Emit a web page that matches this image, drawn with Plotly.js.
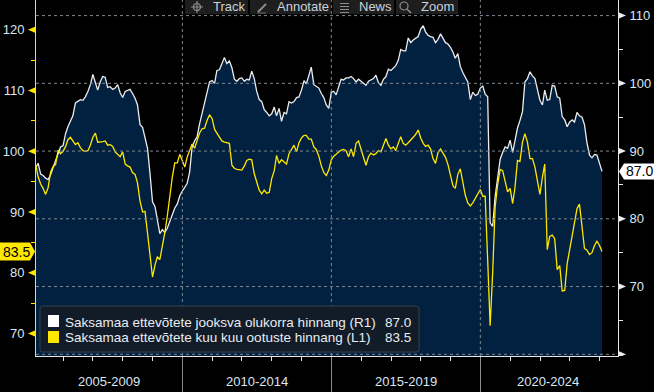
<!DOCTYPE html>
<html>
<head>
<meta charset="utf-8">
<script src="https://cdn.plot.ly/plotly-3.0.1.min.js"></script>
<style>html,body{margin:0;padding:0;background:#000;}#chart{width:654px;height:392px;}</style>
</head>
<body>
<div id="chart"></div>
<script>
// Monthly data, Jan 2005 .. Jan 2024
const startYear = 2005;
const startMonth = 1;
// Saksamaa ettevõtete jooksva olukorra hinnang (R1) - right axis
const currentAssessment = [
  87.6, 88.2, 86.6, 86.4, 86.0, 85.8, 86.5, 87.7, 88.6, 89.6,
  90.6, 90.8, 92.6, 93.6, 94.3, 95.2, 97.1, 97.4, 97.6, 97.5,
  98.0, 98.8, 99.8, 101.3, 100.2, 99.0, 100.2, 101.0, 100.9, 99.4,
  99.5, 99.1, 99.3, 99.8, 98.6, 97.9, 98.8, 98.9, 99.1, 98.5,
  97.8, 96.8, 93.9, 93.5, 92.1, 90.4, 86.7, 82.5, 81.8, 79.9,
  77.8, 78.4, 78.0, 78.6, 79.7, 80.8, 81.6, 82.2, 83.4, 84.1,
  84.6, 85.2, 86.9, 90.6, 91.5, 92.1, 94.0, 95.5, 96.9, 98.3,
  100.2, 100.4, 100.0, 101.9, 102.0, 102.9, 103.8, 102.9, 103.3, 102.3,
  100.6, 100.3, 100.7, 100.8, 100.3, 100.6, 100.5, 101.8, 100.7, 98.8,
  97.6, 97.3, 96.1, 95.7, 95.2, 95.5, 96.5, 95.2, 96.3, 94.4,
  95.7, 95.5, 97.3, 97.1, 97.3, 97.9, 98.0, 99.0, 100.4, 99.9,
  101.2, 102.4, 99.8, 99.5, 99.3, 98.5, 97.9, 96.8, 96.3, 98.7,
  98.8, 98.3, 99.4, 100.6, 100.5, 100.8, 100.8, 101.0, 100.7, 100.2,
  100.6, 100.3, 99.9, 99.7, 100.3, 100.5, 100.7, 101.2, 100.1, 99.7,
  100.6, 101.0, 102.1, 101.9, 102.2, 102.6, 103.4, 105.0, 104.8, 104.8,
  106.7, 106.0, 106.4, 106.6, 106.9, 108.0, 108.5, 107.6, 107.1, 106.9,
  106.8, 106.0, 106.5, 107.3, 106.6, 106.0, 105.8, 105.3, 104.6, 103.7,
  104.4, 102.5, 101.6, 101.0, 100.2, 97.6, 98.7, 98.2, 98.4, 99.3,
  99.6, 98.4, 98.0, 79.4, 78.9, 83.3, 86.5, 88.8, 89.8, 90.6,
  90.4, 91.6, 89.8, 91.7, 93.4, 94.5, 95.8, 100.2, 100.7, 101.7,
  101.1, 100.7, 99.3, 97.5, 96.8, 99.0, 97.5, 97.6, 99.7, 99.6,
  98.0, 97.8, 95.1, 94.6, 93.6, 94.3, 94.6, 94.3, 95.7, 95.2,
  95.0, 93.9, 91.2, 89.4, 89.0, 89.5, 89.4, 88.2, 87.0
];
// Saksamaa ettevõtete kuu kuu ootuste hinnang (L1) - left axis
const expectations = [
  97.7, 95.8, 94.6, 93.9, 92.9, 94.0, 96.6, 97.5, 97.8, 100.2,
  99.6, 100.0, 100.8, 101.9, 102.3, 101.8, 101.1, 101.4, 100.6, 100.1,
  100.0, 100.1, 101.0, 102.3, 103.0, 101.5, 101.5, 101.6, 101.7, 101.0,
  101.1, 100.8, 99.9, 99.5, 99.1, 99.9, 97.9, 97.6, 97.4, 96.5,
  96.2, 94.8, 91.8, 90.0, 90.1, 86.5, 82.8, 79.3, 81.3, 82.6,
  82.2, 84.2, 86.6, 89.3, 92.8, 95.8, 98.1, 98.1, 99.5, 98.3,
  97.4, 99.0, 100.0, 101.2, 100.5, 101.9, 103.0, 103.7, 103.8, 105.1,
  106.0, 105.4, 103.6, 103.0, 102.3, 101.7, 101.5, 101.4, 101.3, 97.7,
  97.2, 97.0, 96.9, 96.9, 97.6, 98.5, 98.7, 98.6, 96.3, 94.9,
  93.6, 93.0, 93.6, 93.1, 93.2, 95.5, 96.8, 99.3, 98.0, 98.6,
  98.3, 97.9, 99.6, 100.4, 101.0, 99.9, 101.4, 102.2, 102.6, 102.6,
  102.0, 102.0, 100.7, 100.3, 99.2, 97.6, 96.5, 96.0, 96.9, 98.6,
  99.2, 99.5, 99.9, 100.2, 100.3, 100.1, 99.1, 100.4, 99.1, 101.3,
  101.7, 100.4, 99.1, 97.7, 99.1, 99.7, 99.4, 99.6, 100.1, 99.9,
  101.0, 102.1, 101.0, 100.4, 100.7, 100.1, 101.3, 102.4, 101.3, 101.0,
  101.4, 101.8, 102.3, 102.8, 103.5, 102.2, 101.3, 100.8, 101.0, 100.4,
  98.8, 98.0, 99.8, 100.4, 99.8, 99.0, 97.8, 96.0, 94.3, 93.9,
  96.2, 97.1, 95.1, 92.8, 91.5, 91.0, 91.5, 92.2, 92.8, 93.7,
  92.6, 92.6, 82.0, 71.3, 80.0, 90.8, 94.5, 97.0, 96.8, 94.8,
  93.3, 93.9, 91.4, 94.0, 98.5, 98.3, 101.5, 102.9, 101.5, 98.8,
  98.8, 97.4, 95.2, 92.9, 95.8, 97.9, 83.8, 86.0, 86.2, 85.6,
  80.5, 81.2, 77.0, 77.1, 81.5, 84.0, 86.2, 88.1, 90.6, 91.3,
  87.5, 84.0, 83.7, 83.0, 83.3, 84.5, 85.2, 84.5, 83.5
];
const currentName = "Saksamaa ettevõtete jooksva olukorra hinnang (R1)";
const expectName = "Saksamaa ettevõtete kuu kuu ootuste hinnang (L1)";
const periodLabels = ["2005-2009", "2010-2014", "2015-2019", "2020-2024"];
const periodCenters = ["2007-07-18", "2012-07-02", "2017-07-02", "2022-04-10"];
const periodBreaks = ["2010-01-01", "2015-01-01", "2020-01-01"];
const yearTicks = ["2006","2007","2008","2009","2010","2011","2012","2013","2014","2015","2016","2017","2018","2019","2020","2021","2022","2023","2024"].map(y => y + "-01-01");
const leftTicks = [70, 80, 90, 100, 110, 120];
const leftMinor = [70, 75, 80, 85, 90, 95, 100, 105, 110, 115, 120];
const rightTicks = [60, 70, 80, 90, 100, 110];
const rightMinor = [65, 75, 85, 95, 105];

// month-end dates
function pad(n){ return (n < 10 ? "0" : "") + n; }
const dates = currentAssessment.map((_, i) => {
  const d = new Date(Date.UTC(startYear, startMonth - 1 + i + 1, 0));
  return d.getUTCFullYear() + "-" + pad(d.getUTCMonth() + 1) + "-" + pad(d.getUTCDate());
});

const YELLOW = "#ffe800";
const WHITE = "#ececec";
const NAVY = "#02203f";
const TXT = "#dbe6f3";
const GRID = "#7d8790";
const FONT = "Liberation Sans, Arial, sans-serif";
const XRANGE = ["2005-02-02", "2024-08-14"];
const RRANGE = [59.75, 112.3];
const LRANGE = [66.3, 124.9];

// y = right axis (white, filled); y2 = left axis overlay (yellow) so that yellow draws on top
const traces = [
  { x: dates, y: currentAssessment, yaxis: "y", type: "scatter", mode: "lines",
    line: { color: WHITE, width: 1.3 }, fill: "tozeroy", fillcolor: NAVY, hoverinfo: "skip" },
  { x: dates, y: expectations, yaxis: "y2", type: "scatter", mode: "lines",
    line: { color: YELLOW, width: 1.3 }, hoverinfo: "skip" }
];

const L = 36, R = 36, W = 654, H = 392, B = 36;
const PW = W - L - R, PH = H - B;

function pxShape(pathPts, fill, line) {
  return { type: "path", xref: "paper", yref: "paper", xsizemode: "pixel", ysizemode: "pixel",
    xanchor: 0, yanchor: 1, path: pathPts, fillcolor: fill || "rgba(0,0,0,0)",
    line: line || { width: 0 }, layer: "above" };
}
function P(X, Y) { return (X - L) + "," + (-Y); }

const shapes = [];
// dashed grid lines drawn above the area fill
rightTicks.forEach(v => shapes.push({ type: "line", xref: "paper", yref: "y", x0: 0, x1: 1, y0: v, y1: v,
  line: { color: GRID, width: 1, dash: "3px,3px" }, layer: "above" }));
periodBreaks.forEach(d => shapes.push({ type: "line", xref: "x", yref: "paper", x0: d, x1: d, y0: 0, y1: 1,
  line: { color: GRID, width: 1, dash: "3px,3px" }, layer: "above" }));
// left axis major tick triangles
leftTicks.forEach(v => shapes.push({ type: "path", xref: "paper", yref: "y2", xsizemode: "pixel", ysizemode: "pixel",
  xanchor: 0, yanchor: v, path: "M -1,-3 L -1,3 L -8,0 Z", fillcolor: YELLOW, line: { width: 0 }, layer: "above" }));
// right axis major tick triangles
rightTicks.forEach(v => shapes.push({ type: "path", xref: "paper", yref: "y", xsizemode: "pixel", ysizemode: "pixel",
  xanchor: 1, yanchor: v, path: "M 1,-3 L 1,3 L 8,0 Z", fillcolor: WHITE, line: { width: 0 }, layer: "above" }));
// last value boxes
const lastExp = expectations[expectations.length - 1];
const lastCur = currentAssessment[currentAssessment.length - 1];
shapes.push({ type: "path", xref: "paper", yref: "y2", xsizemode: "pixel", ysizemode: "pixel",
  xanchor: 0, yanchor: lastExp, path: "M -36,-9 L -6,-9 L -1,0 L -6,9 L -36,9 Z", fillcolor: YELLOW, line: { width: 0 }, layer: "above" });
shapes.push({ type: "path", xref: "paper", yref: "y", xsizemode: "pixel", ysizemode: "pixel",
  xanchor: 1, yanchor: lastCur, path: "M 1,0 L 6,8 L 36,8 L 36,-8 L 6,-8 Z", fillcolor: "#ffffff", line: { width: 0 }, layer: "above" });

// legend box
shapes.push(pxShape("M " + P(43,306) + " L " + P(416,306) + " Q " + P(419,306) + " " + P(419,309) +
  " L " + P(419,349) + " Q " + P(419,352) + " " + P(416,352) + " L " + P(43,352) + " Q " + P(40,352) + " " + P(40,349) +
  " L " + P(40,309) + " Q " + P(40,306) + " " + P(43,306) + " Z", "#121c28", { color: "#34404e", width: 1 }));
shapes.push(pxShape("M " + P(48,315) + " L " + P(59,315) + " L " + P(59,327) + " L " + P(48,327) + " Z", "#ffffff"));
shapes.push(pxShape("M " + P(48,331) + " L " + P(59,331) + " L " + P(59,343) + " L " + P(48,343) + " Z", YELLOW));

// toolbar boxes
[[185,248],[250,331],[333,394],[396,458]].forEach(b => {
  shapes.push(pxShape("M " + P(b[0],0) + " L " + P(b[1],0) + " L " + P(b[1],14) + " L " + P(b[0],14) + " Z", "#1e1e1e"));
});
const ICON = { color: "#8c8c8c", width: 1.2 };
shapes.push({ type: "circle", xref: "paper", yref: "paper", xsizemode: "pixel", ysizemode: "pixel", xanchor: 0, yanchor: 1,
  x0: 197 - L - 3.5, x1: 197 - L + 3.5, y0: -7 - 3.5, y1: -7 + 3.5, line: ICON, layer: "above" });
shapes.push(pxShape("M " + P(191,7) + " L " + P(203,7) + " M " + P(197,1) + " L " + P(197,13), null, ICON));
shapes.push(pxShape("M " + P(258,12) + " L " + P(266,4), null, { color: "#8c8c8c", width: 2 }));
shapes.push(pxShape("M " + P(257,13) + " L " + P(266,13), null, { color: "#6a6a6a", width: 1 }));
shapes.push(pxShape("M " + P(340,3.5) + " L " + P(349,3.5) + " M " + P(340,6.5) + " L " + P(349,6.5) +
  " M " + P(340,9.5) + " L " + P(349,9.5) + " M " + P(340,12.5) + " L " + P(349,12.5), null, ICON));
shapes.push({ type: "circle", xref: "paper", yref: "paper", xsizemode: "pixel", ysizemode: "pixel", xanchor: 0, yanchor: 1,
  x0: 404 - L - 4, x1: 404 - L + 4, y0: -6 - 4, y1: -6 + 4, line: ICON, layer: "above" });
shapes.push(pxShape("M " + P(407,9) + " L " + P(411,13), null, { color: "#8c8c8c", width: 1.6 }));

function ann(X, Y, text, opts) {
  return Object.assign({ xref: "paper", yref: "paper", x: (X - L) / PW, y: (PH - Y) / PH, text: text, showarrow: false,
    xanchor: "left", yanchor: "middle", font: { family: FONT, size: 13, color: TXT } }, opts || {});
}
const annotations = [];
periodLabels.forEach((t, i) => annotations.push({ xref: "x", yref: "paper", x: periodCenters[i], y: (PH - 381) / PH,
  text: t, showarrow: false, xanchor: "center", yanchor: "middle", font: { family: FONT, size: 13, color: TXT } }));
annotations.push(ann(211, 7, "Track", { font: { family: FONT, size: 13, color: "#c9d2dc" } }));
annotations.push(ann(275, 7, "Annotate", { font: { family: FONT, size: 13, color: "#c9d2dc" } }));
annotations.push(ann(357, 7, "News", { font: { family: FONT, size: 13, color: "#c9d2dc" } }));
annotations.push(ann(419, 7, "Zoom", { font: { family: FONT, size: 13, color: "#c9d2dc" } }));
annotations.push(ann(63, 322, currentName, { font: { family: FONT, size: 13.5, color: "#e8edf2" } }));
annotations.push(ann(63, 337.5, expectName, { font: { family: FONT, size: 13.5, color: "#e8edf2" } }));
annotations.push(ann(413, 322, lastCur.toFixed(1), { xanchor: "right", font: { family: FONT, size: 13.5, color: "#e8edf2" } }));
annotations.push(ann(413, 337.5, lastExp.toFixed(1), { xanchor: "right", font: { family: FONT, size: 13.5, color: "#e8edf2" } }));
annotations.push({ xref: "paper", yref: "y2", x: 0, xshift: -20, y: lastExp, text: lastExp.toFixed(1), showarrow: false,
  xanchor: "center", yanchor: "middle", font: { family: FONT, size: 14, color: "#000" } });
annotations.push({ xref: "paper", yref: "y", x: 1, xshift: 21, y: lastCur, text: lastCur.toFixed(1), showarrow: false,
  xanchor: "center", yanchor: "middle", font: { family: FONT, size: 14, color: "#000" } });

const layout = {
  width: W, height: H,
  margin: { l: L, r: R, t: 0, b: B, pad: 0 },
  paper_bgcolor: "#000", plot_bgcolor: "#000",
  showlegend: false,
  hovermode: false,
  xaxis: {
    type: "date", range: XRANGE, fixedrange: true,
    showticklabels: false, tickmode: "array", tickvals: periodBreaks,
    ticks: "outside", ticklen: 36, tickwidth: 1, tickcolor: "#8a8a8a",
    showgrid: false,
    showline: true, linecolor: "#e6e6e6", linewidth: 1, zeroline: false,
    minor: { tickmode: "array", tickvals: yearTicks, ticks: "outside", ticklen: 4, tickcolor: "#e6e6e6", tickwidth: 1, showgrid: false }
  },
  yaxis: {
    range: RRANGE, side: "right", fixedrange: true,
    tickmode: "array", tickvals: rightTicks, ticktext: ["", "70", "80", "90", "100", "110"],
    ticks: "outside", ticklen: 8, tickcolor: "rgba(0,0,0,0)",
    tickfont: { family: FONT, size: 13, color: TXT },
    showgrid: false, zeroline: false, showline: true, linecolor: "#e6e6e6", linewidth: 1,
    minor: { tickmode: "array", tickvals: rightMinor, ticks: "outside", ticklen: 4, tickcolor: "#e6e6e6", tickwidth: 1, showgrid: false }
  },
  yaxis2: {
    range: LRANGE, overlaying: "y", side: "left", fixedrange: true,
    tickmode: "array", tickvals: leftTicks, ticks: "outside", ticklen: 8, tickcolor: "rgba(0,0,0,0)",
    tickfont: { family: FONT, size: 13, color: TXT },
    showgrid: false, zeroline: false, showline: true, linecolor: YELLOW, linewidth: 1,
    minor: { tickmode: "array", tickvals: leftMinor, ticks: "outside", ticklen: 4, tickcolor: YELLOW, tickwidth: 1, showgrid: false }
  },
  shapes: shapes,
  annotations: annotations
};

Plotly.newPlot("chart", traces, layout, { displayModeBar: false, staticPlot: true });
</script>
</body>
</html>
